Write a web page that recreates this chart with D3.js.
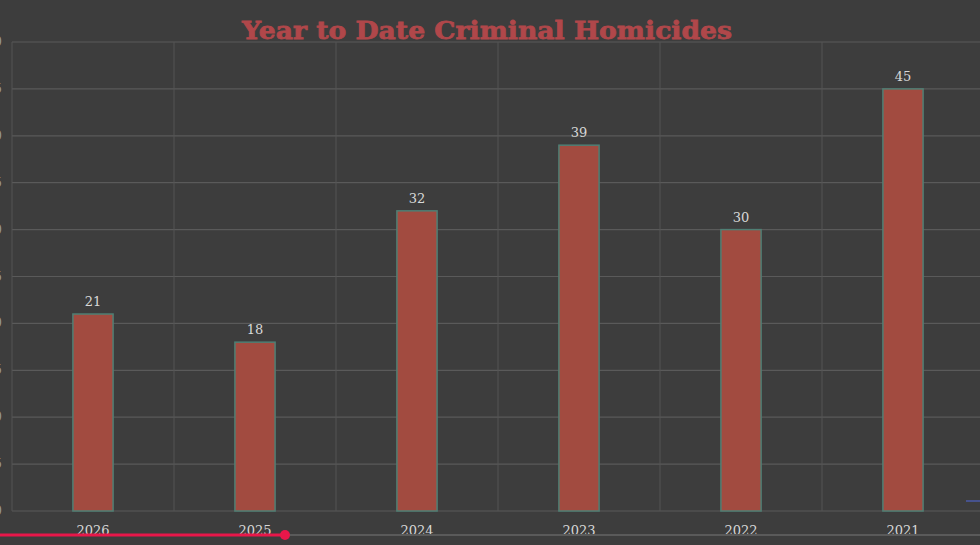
<!DOCTYPE html>
<html>
<head>
<meta charset="utf-8">
<script src="https://cdn.jsdelivr.net/npm/d3@7/dist/d3.min.js"></script>
<style>
  html, body { margin: 0; padding: 0; background: #3d3d3d; }
  svg { display: block; }
</style>
</head>
<body>
<svg width="980" height="545"></svg>
<script>
const years = ['2026', '2025', '2024', '2023', '2022', '2021'];
const homicides = [21, 18, 32, 39, 30, 45];
const yTicks = [0, 5, 10, 15, 20, 25, 30, 35, 40, 45, 50];

const width = 980, height = 545;
const margin = { top: 42, right: -4, bottom: 34, left: 12 };

const svg = d3.select('svg');

svg.append('rect')
    .attr('width', width)
    .attr('height', height)
    .attr('fill', '#3d3d3d');

let x = d3.scaleBand()
    .domain(years)
    .range([margin.left, width - margin.right])
    .paddingInner(0.752)
    .paddingOuter(0.376);

let xGrid = d3.scaleBand()
    .domain(years)
    .range([margin.left, width - margin.right]);

let y = d3.scaleLinear()
    .domain([0, 50])
    .range([height - margin.bottom, margin.top]);

// horizontal grid
svg.append('g')
    .selectAll('line')
    .data(yTicks)
    .join('line')
    .attr('x1', margin.left)
    .attr('x2', width)
    .attr('y1', d => y(d))
    .attr('y2', d => y(d))
    .attr('stroke', '#5a5a5a')
    .attr('stroke-width', 1.2);

// vertical grid
svg.append('g')
    .selectAll('line')
    .data(years)
    .join('line')
    .attr('x1', d => xGrid(d))
    .attr('x2', d => xGrid(d))
    .attr('y1', y(50))
    .attr('y2', y(0))
    .attr('stroke', '#555555')
    .attr('stroke-width', 1);

// y tick labels, cut off by the left edge as in the source frame
svg.append('g')
    .selectAll('text')
    .data(yTicks)
    .join('text')
    .attr('x', 2)
    .attr('y', d => y(d) + 4)
    .attr('text-anchor', 'end')
    .attr('fill', '#999999')
    .attr('font-family', 'DejaVu Serif, serif')
    .attr('font-size', 12)
    .text(d => d);

// bars
svg.append('g')
    .selectAll('rect')
    .data(homicides)
    .join('rect')
    .attr('x', (d, i) => x(years[i]))
    .attr('y', d => y(d))
    .attr('width', x.bandwidth())
    .attr('height', d => y(0) - y(d))
    .attr('fill', '#a24b40')
    .attr('stroke', '#4f7f74')
    .attr('stroke-width', 1.5);

// value labels
svg.append('g')
    .selectAll('text')
    .data(homicides)
    .join('text')
    .attr('x', (d, i) => x(years[i]) + x.bandwidth() / 2)
    .attr('y', d => y(d) - 8)
    .attr('text-anchor', 'middle')
    .attr('fill', '#d8d8d8')
    .attr('font-family', 'DejaVu Serif, serif')
    .attr('font-size', 13)
    .text(d => d);

// x labels
svg.append('g')
    .selectAll('text')
    .data(years)
    .join('text')
    .attr('x', d => x(d) + x.bandwidth() / 2)
    .attr('y', 535)
    .attr('text-anchor', 'middle')
    .attr('fill', '#d8d8d8')
    .attr('font-family', 'DejaVu Serif, serif')
    .attr('font-size', 13)
    .text(d => d);

// title
svg.append('text')
    .attr('x', 487)
    .attr('y', 39)
    .attr('text-anchor', 'middle')
    .attr('fill', '#b0474a')
    .attr('stroke', '#b0474a')
    .attr('stroke-width', 0.8)
    .attr('font-family', 'DejaVu Serif, serif')
    .attr('font-weight', 'bold')
    .attr('font-size', 25)
    .attr('textLength', 490)
    .attr('lengthAdjust', 'spacingAndGlyphs')
    .text('Year to Date Criminal Homicides');

// video player overlay at the bottom
svg.append('line')
    .attr('x1', 0).attr('x2', width)
    .attr('y1', 535).attr('y2', 535)
    .attr('stroke', '#5a5a5a')
    .attr('stroke-width', 2);
svg.append('line')
    .attr('x1', 0).attr('x2', 285)
    .attr('y1', 535).attr('y2', 535)
    .attr('stroke', '#e8174a')
    .attr('stroke-width', 3);
svg.append('circle')
    .attr('cx', 285).attr('cy', 535).attr('r', 5)
    .attr('fill', '#e8174a');
svg.append('line')
    .attr('x1', 966).attr('x2', 980)
    .attr('y1', 501).attr('y2', 501)
    .attr('stroke', '#4a5aa8')
    .attr('stroke-width', 1.5);
</script>
</body>
</html>
